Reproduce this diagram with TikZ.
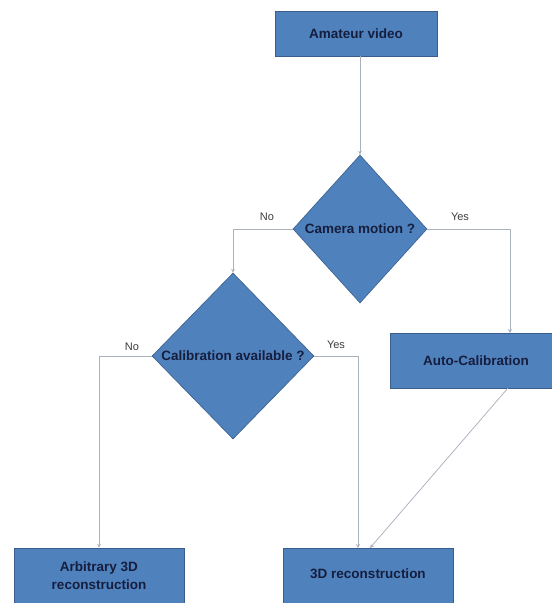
\documentclass[tikz,border=0pt]{standalone}
\usepackage{fontspec}
\setmainfont{Liberation Sans}
\usepackage{tikz}
\usetikzlibrary{positioning,arrows.meta,calc,shapes.geometric}
\definecolor{ink}{RGB}{22,30,62}
\definecolor{boxblue}{RGB}{79,129,189}
\definecolor{boxframe}{RGB}{58,94,140}
\definecolor{wire}{RGB}{170,178,190}
\definecolor{labgray}{RGB}{60,60,60}
\tikzset{
  box/.style={draw=boxframe, fill=boxblue, rectangle, align=center, inner sep=2pt,
    font=\fontsize{13.5}{18}\selectfont\bfseries, text=ink, line width=0.6pt},
  decide/.style={draw=boxframe, fill=boxblue, diamond, inner sep=0pt, line width=0.6pt},
  qtext/.style={font=\fontsize{13.5}{15}\selectfont\bfseries, text=ink, inner sep=0pt},
  flow/.style={-{Stealth[length=4pt,width=4pt]}, line width=0.75pt, draw=wire},
  ans/.style={font=\fontsize{11}{12}\selectfont, text=labgray, inner sep=1pt},
}

\begin{document}
\begin{tikzpicture}[x=1pt,y=-1pt]
  \useasboundingbox[fill=white] (0,0) rectangle (552,603);
  % boxes and decisions
  \node[box, minimum width=162pt, minimum height=45pt] (video) at (356,33.5) {Amateur video};
  \node[decide, minimum width=134pt, minimum height=148pt] (camera) at (360,229) {};
  \node[qtext] (cameraq) at (camera) {Camera motion ?};
  \node[decide, minimum width=162pt, minimum height=166pt] (calib) at (233,356) {};
  \node[qtext] (calibq) at (calib) {Calibration available ?};
  \node[box, minimum width=172pt, minimum height=55pt] (autocal) at (476,360.5) {Auto-Calibration};
  \node[box, minimum width=170pt, minimum height=56pt] (arbit) at (99,576) {Arbitrary 3D\\reconstruction};
  \node[box, minimum width=170pt, minimum height=56pt] (recon) at (368,576) {\raisebox{5pt}{3D reconstruction}};
  % connector ends
  \coordinate (acin) at (510,333);
  \coordinate (acout) at (508,388);
  \coordinate (rcyes) at (358,548);
  \coordinate (rcauto) at (370,548);
  % connectors
  \draw[flow] (camera.north |- video.south) -- (camera.north);
  \draw[flow] (camera.west) -| (calib.north);
  \draw[flow] (camera.east) -| (acin);
  \draw[flow] (calib.west) -| (arbit.north);
  \draw[flow] (calib.east) -| (rcyes);
  \draw[flow] (acout) -- (rcauto);
  % answers
  \node[ans] (camno) at (267,217) {No};
  \node[ans] (camyes) at (460,217) {Yes};
  \node[ans] (calno) at (132,347) {No};
  \node[ans] (calyes) at (336,345) {Yes};
\end{tikzpicture}
\end{document}
